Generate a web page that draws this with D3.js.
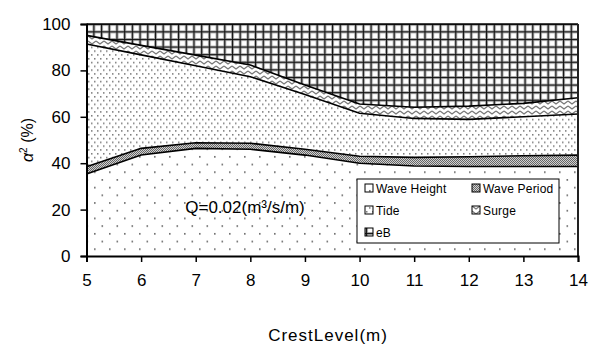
<!DOCTYPE html>
<html>
<head>
<meta charset="utf-8">
<script src="https://cdn.jsdelivr.net/npm/d3@7"></script>
<style>
  body { margin: 0; background: #fff; }
  text { font-family: "Liberation Sans", Arial, sans-serif; fill: #000; }
</style>
</head>
<body>
<script>
const crestLevel = [5, 6, 7, 8, 9, 10, 11, 12, 13, 14];
const waveHeight = [35.3, 43.5, 46.4, 46.0, 43.5, 40.0, 38.8, 38.6, 38.6, 38.6];
const wavePeriod = [3.2, 2.9, 2.4, 2.6, 2.5, 3.0, 3.7, 4.2, 4.6, 4.9];
const tide       = [52.9, 40.3, 33.2, 28.7, 23.6, 18.5, 16.8, 16.1, 16.8, 17.7];
const surge      = [3.7, 4.1, 4.6, 5.0, 4.1, 4.0, 4.8, 5.7, 5.8, 7.0];
const eB         = [4.9, 9.2, 13.4, 17.7, 26.3, 34.5, 35.9, 35.4, 34.2, 31.8];
const seriesNames = ["Wave Height", "Wave Period", "Tide", "Surge", "eB"];
const yTicks = [0, 20, 40, 60, 80, 100];

const width = 592, height = 345;
const margin = {left: 86.5, right: 14, top: 24, bottom: 89};

const rows = crestLevel.map((c, i) => ({
  x: c,
  "Wave Height": waveHeight[i],
  "Wave Period": wavePeriod[i],
  "Tide": tide[i],
  "Surge": surge[i],
  "eB": eB[i]
}));

const svg = d3.select('body').append('svg')
  .attr('width', width)
  .attr('height', height);

const x = d3.scaleLinear().domain([5, 14]).range([margin.left, width - margin.right]);
const y = d3.scaleLinear().domain([0, 100]).range([height - margin.bottom, margin.top]);

// fill patterns
const defs = svg.append('defs');

const pWH = defs.append('pattern').attr('id', 'pWH').attr('patternUnits', 'userSpaceOnUse')
  .attr('width', 15).attr('height', 15.4);
pWH.append('rect').attr('width', 15).attr('height', 15.4).attr('fill', '#fff');
pWH.append('rect').attr('x', 4).attr('y', 2).attr('width', 1.6).attr('height', 1.6).attr('fill', '#666');
pWH.append('rect').attr('x', 11.5).attr('y', 9.7).attr('width', 1.6).attr('height', 1.6).attr('fill', '#666');

const pTide = defs.append('pattern').attr('id', 'pTide').attr('patternUnits', 'userSpaceOnUse')
  .attr('width', 6).attr('height', 7.6);
pTide.append('rect').attr('width', 6).attr('height', 7.6).attr('fill', '#fff');
pTide.append('rect').attr('x', 1).attr('y', 1).attr('width', 1.5).attr('height', 1.5).attr('fill', '#777');
pTide.append('rect').attr('x', 4).attr('y', 4.8).attr('width', 1.5).attr('height', 1.5).attr('fill', '#777');

const pWP = defs.append('pattern').attr('id', 'pWP').attr('patternUnits', 'userSpaceOnUse')
  .attr('width', 2).attr('height', 2);
pWP.append('rect').attr('width', 2).attr('height', 2).attr('fill', '#d0d0d0');
pWP.append('rect').attr('width', 1).attr('height', 1).attr('fill', '#666');
pWP.append('rect').attr('x', 1).attr('y', 1).attr('width', 1).attr('height', 1).attr('fill', '#666');

const pSurge = defs.append('pattern').attr('id', 'pSurge').attr('patternUnits', 'userSpaceOnUse')
  .attr('width', 8).attr('height', 5);
pSurge.append('rect').attr('width', 8).attr('height', 5).attr('fill', '#fff');
pSurge.append('path').attr('d', 'M0,1 L4,4 L8,1').attr('fill', 'none')
  .attr('stroke', '#777').attr('stroke-width', 1.3);

const pEB = defs.append('pattern').attr('id', 'pEB').attr('patternUnits', 'userSpaceOnUse')
  .attr('width', 7.7).attr('height', 7.6);
pEB.append('rect').attr('width', 7.7).attr('height', 7.6).attr('fill', '#fff');
pEB.append('rect').attr('x', 0).attr('y', 0).attr('width', 3).attr('height', 7.6).attr('fill', '#b4b4b4');
pEB.append('rect').attr('x', 0).attr('y', 0).attr('width', 7.7).attr('height', 3).attr('fill', '#b4b4b4');
pEB.append('rect').attr('x', 0.9).attr('y', 0).attr('width', 1.2).attr('height', 7.6).attr('fill', '#111');
pEB.append('rect').attr('x', 0).attr('y', 0.9).attr('width', 7.7).attr('height', 1.2).attr('fill', '#111');

const fills = {"Wave Height": 'url(#pWH)', "Wave Period": 'url(#pWP)', "Tide": 'url(#pTide)', "Surge": 'url(#pSurge)', "eB": 'url(#pEB)'};

const stack = d3.stack().keys(seriesNames);
const layers = stack(rows);

const area = d3.area()
  .x(d => x(d.data.x))
  .y0(d => y(d[0]))
  .y1(d => y(d[1]));

svg.append('g').selectAll('path')
  .data(layers)
  .enter()
  .append('path')
  .attr('d', area)
  .attr('fill', d => fills[d.key]);

// boundary lines
const line = d3.line()
  .x(d => x(d.data.x))
  .y(d => y(d[1]));

svg.append('g').selectAll('path')
  .data(layers.slice(0, 4))
  .enter()
  .append('path')
  .attr('d', line)
  .attr('fill', 'none')
  .attr('stroke', '#000')
  .attr('stroke-width', 1.6);

// plot frame top / right
svg.append('line')
  .attr('x1', x(5)).attr('x2', x(14)).attr('y1', y(100)).attr('y2', y(100))
  .attr('stroke', '#000').attr('stroke-width', 1.5);
svg.append('line')
  .attr('x1', x(14)).attr('x2', x(14)).attr('y1', y(100)).attr('y2', y(0))
  .attr('stroke', '#222').attr('stroke-width', 2);

// axes
const xAxis = svg.append('g')
  .attr('transform', `translate(0,${y(0)})`)
  .call(d3.axisBottom(x).tickValues(crestLevel).tickSize(6).tickPadding(12).tickFormat(d3.format('d')));
const yAxis = svg.append('g')
  .attr('transform', `translate(${x(5)},0)`)
  .call(d3.axisLeft(y).tickValues(yTicks).tickSize(6).tickPadding(10));

[xAxis, yAxis].forEach(g => {
  g.select('.domain').attr('stroke', '#000').attr('stroke-width', 2);
  g.selectAll('.tick line').attr('stroke', '#000').attr('stroke-width', 1.5);
  g.selectAll('.tick text').style('font-size', '17px').attr('fill', '#000');
});

// axis titles
svg.append('text')
  .attr('x', 328)
  .attr('y', 341)
  .attr('text-anchor', 'middle')
  .style('font-size', '17px')
  .style('letter-spacing', '1px')
  .text('CrestLevel(m)');

const yl = svg.append('text')
  .attr('transform', `translate(33,${(y(0) + y(100)) / 2}) rotate(-90)`)
  .attr('text-anchor', 'middle')
  .style('font-size', '16px');
yl.append('tspan').style('font-style', 'italic').text('α');
yl.append('tspan').attr('dy', -6).style('font-size', '10px').text('2');
yl.append('tspan').attr('dy', 6).text(' (%)');

// annotation
svg.append('text')
  .attr('x', 245)
  .attr('y', 213)
  .attr('text-anchor', 'middle')
  .style('font-size', '17px')
  .text('Q=0.02(m³/s/m)');

// legend
const lg = svg.append('g').attr('transform', 'translate(357,179)');
lg.append('rect').attr('width', 202).attr('height', 64)
  .attr('fill', '#fff').attr('stroke', '#000').attr('stroke-width', 1);
const legPos = [[8, 9], [115, 9], [8, 31], [115, 31], [8, 53]];
seriesNames.forEach((name, i) => {
  const it = lg.append('g').attr('transform', `translate(${legPos[i][0]},${legPos[i][1]})`);
  it.append('rect').attr('x', 0).attr('y', -4).attr('width', 8).attr('height', 8)
    .attr('fill', fills[name]).attr('stroke', '#000').attr('stroke-width', 1);
  it.append('text').attr('x', 11).attr('y', 5)
    .style('font-size', '12px')
    .style('letter-spacing', '0.2px')
    .text(name);
});
</script>
</body>
</html>
